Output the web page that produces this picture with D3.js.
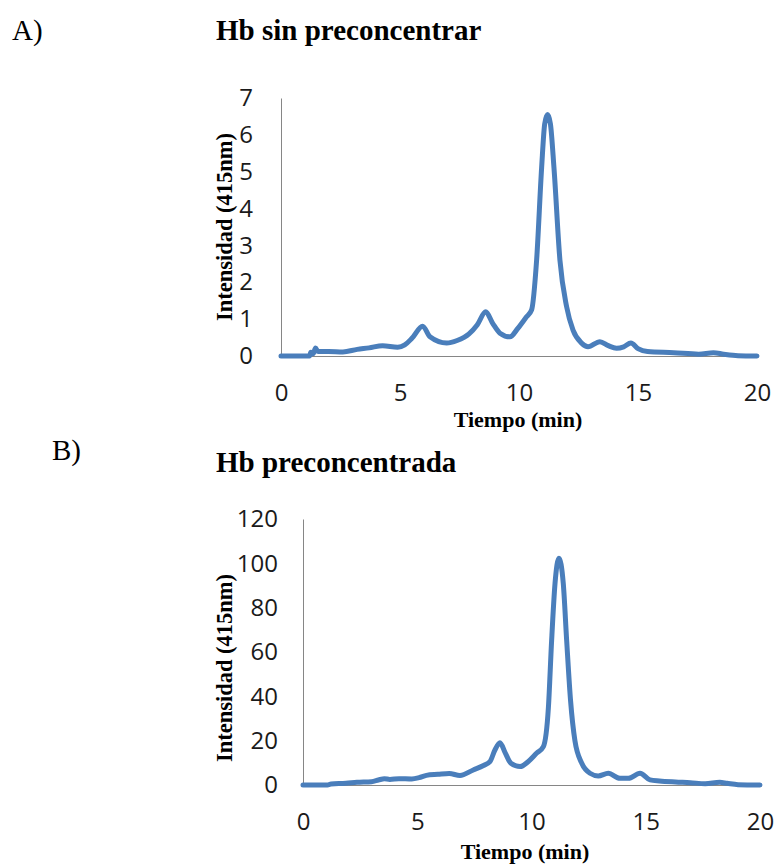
<!DOCTYPE html>
<html>
<head>
<meta charset="utf-8">
<script src="https://cdn.jsdelivr.net/npm/d3@7"></script>
<style>
  html, body { margin: 0; padding: 0; background: #fff; }
  svg { display: block; }
</style>
</head>
<body>
<svg id="fig" width="775" height="864"></svg>
<script>
// Chromatogram A: haemoglobin without preconcentration
const timeA = [0, 1.2, 1.25, 1.35, 1.45, 1.55, 2.0, 2.6, 3.2, 3.7, 4.27, 4.9, 5.2, 5.5, 5.95, 6.26, 6.96, 7.4, 7.9, 8.25, 8.6, 8.9, 9.2, 9.62, 9.95, 10.3, 10.53, 10.74, 10.95, 11.08, 11.2, 11.32, 11.47, 11.72, 12.0, 12.27, 12.63, 12.9, 13.4, 13.75, 14.1, 14.4, 14.7, 15.0, 15.4, 16.5, 17.55, 18.17, 18.6, 19.2, 20];
const intensityA = [0, 0, 0.1, 0.06, 0.22, 0.12, 0.12, 0.11, 0.18, 0.22, 0.28, 0.24, 0.3, 0.48, 0.81, 0.52, 0.35, 0.42, 0.6, 0.85, 1.2, 0.88, 0.62, 0.52, 0.75, 1.05, 1.25, 2.6, 5.1, 6.3, 6.55, 6.3, 5.1, 2.6, 1.34, 0.7, 0.35, 0.25, 0.39, 0.28, 0.21, 0.25, 0.35, 0.2, 0.12, 0.09, 0.05, 0.09, 0.05, 0.01, 0];

// Chromatogram B: preconcentrated haemoglobin
const timeB = [0, 1.07, 1.23, 1.88, 2.36, 3.0, 3.3, 3.56, 3.8, 4.2, 4.76, 5.08, 5.4, 5.9, 6.4, 6.87, 7.45, 7.9, 8.18, 8.4, 8.62, 8.85, 9.1, 9.5, 9.85, 10.23, 10.52, 10.74, 10.88, 11.03, 11.2, 11.39, 11.54, 11.71, 11.9, 12.2, 12.56, 12.92, 13.36, 13.87, 14.24, 14.75, 15.19, 15.6, 16.3, 16.95, 17.6, 18.24, 18.56, 19.04, 20];
const intensityB = [0, 0, 0.5, 0.75, 1.2, 1.5, 2.25, 2.85, 2.5, 2.85, 2.7, 3.3, 4.35, 4.8, 5.2, 4.3, 6.8, 8.8, 10.5, 15.8, 19.1, 14.5, 9.8, 8.3, 10.5, 14.4, 17.3, 35, 65, 91, 102.3, 91, 65, 38, 20, 9.8, 5.3, 4.1, 5.3, 3.0, 3.0, 5.3, 2.3, 1.8, 1.35, 1.05, 0.6, 1.2, 0.75, 0.15, 0];

const xTicks = [0, 5, 10, 15, 20];
const yTicksA = [0, 1, 2, 3, 4, 5, 6, 7];
const yTicksB = [0, 20, 40, 60, 80, 100, 120];

const panelLetters = ["A)", "B)"];
const panelTitles = ["Hb sin preconcentrar", "Hb preconcentrada"];
const xTitle = "Tiempo (min)";
const yTitle = "Intensidad (415nm)";

const svg = d3.select("#fig");
svg.append("rect").attr("width", 775).attr("height", 864).attr("fill", "#fff");

const serif = "'Liberation Serif', 'Times New Roman', serif";
const sans = "'Open Sans', 'Noto Sans', sans-serif";
const lineColor = "#4A7EBB";
const axisColor = "#868686";
const intFmt = d3.format("d");

function panel(cfg) {
  const x = d3.scaleLinear().domain([0, 20]).range([cfg.left, cfg.right]);
  const y = d3.scaleLinear().domain([0, cfg.yMax]).range([cfg.bottom, cfg.top]);

  // panel letter and title
  svg.append("text").attr("x", cfg.letterX).attr("y", cfg.letterY)
    .attr("font-family", serif).attr("font-size", 29).attr("fill", "#000")
    .text(cfg.letter);
  svg.append("text").attr("x", 216).attr("y", cfg.titleY)
    .attr("font-family", serif).attr("font-size", 29).attr("font-weight", "bold")
    .attr("fill", "#000").text(cfg.title);

  // axes (no tick marks, grey axis lines)
  const gx = svg.append("g").attr("transform", `translate(0,${cfg.bottom})`)
    .call(d3.axisBottom(x).tickValues(xTicks).tickFormat(intFmt)
      .tickSize(0).tickSizeOuter(0).tickPadding(cfg.xPad));
  const gy = svg.append("g").attr("transform", `translate(${cfg.left},0)`)
    .call(d3.axisLeft(y).tickValues(cfg.yTicks).tickFormat(intFmt)
      .tickSize(0).tickSizeOuter(0).tickPadding(cfg.yPad));
  [gx, gy].forEach(g => {
    g.select(".domain").attr("stroke", axisColor).attr("stroke-width", 1);
    g.selectAll("text").attr("font-family", sans).attr("font-size", 24).attr("fill", "#1a1a1a");
  });

  // axis titles
  svg.append("text").attr("x", cfg.xTitleX).attr("y", cfg.xTitleY)
    .attr("text-anchor", "middle").attr("font-family", serif).attr("font-size", 22)
    .attr("font-weight", "bold").attr("fill", "#000").text(xTitle);
  svg.append("text")
    .attr("transform", `translate(232,${cfg.yTitleY}) rotate(-90)`)
    .attr("text-anchor", "middle").attr("font-family", serif).attr("font-size", 22.5)
    .attr("font-weight", "bold").attr("fill", "#000").text(yTitle);

  // trace
  const pts = cfg.t.map((t, i) => [t, cfg.v[i]]);
  const line = d3.line().x(d => x(d[0])).y(d => y(d[1])).curve(d3.curveMonotoneX);
  svg.append("path").datum(pts).attr("d", line)
    .attr("fill", "none").attr("stroke", lineColor).attr("stroke-width", 5)
    .attr("stroke-linejoin", "round").attr("stroke-linecap", "round");
}

panel({
  letter: panelLetters[0], letterX: 12, letterY: 40,
  title: panelTitles[0], titleY: 40,
  left: 281, right: 757, top: 98, bottom: 356, yMax: 7, yTicks: yTicksA,
  xPad: 27.5, yPad: 28, xTitleX: 518, xTitleY: 427, yTitleY: 227,
  t: timeA, v: intensityA
});

panel({
  letter: panelLetters[1], letterX: 52, letterY: 460,
  title: panelTitles[1], titleY: 472,
  left: 303, right: 760, top: 519, bottom: 785, yMax: 120, yTicks: yTicksB,
  xPad: 28, yPad: 25, xTitleX: 525, xTitleY: 859, yTitleY: 668,
  t: timeB, v: intensityB
});
</script>
</body>
</html>
